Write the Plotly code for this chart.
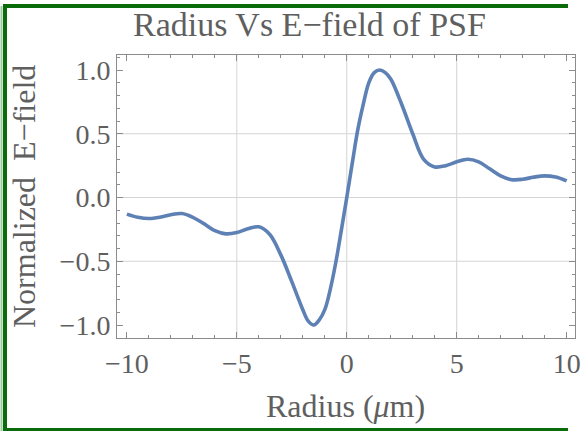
import plotly.graph_objects as go

# Data
radius = [-10.0, -9.5, -9.0, -8.5, -8.0, -7.5, -7.0, -6.5, -6.0, -5.5, -5.0, -4.5, -4.0,
          -3.5, -3.0, -2.5, -2.0, -1.75, -1.5, -1.25, -1.0, -0.75, -0.5, -0.25, 0.0,
          0.25, 0.5, 0.75, 1.0, 1.25, 1.5, 1.75, 2.0, 2.5, 3.0,
          3.5, 4.0, 4.5, 5.0, 5.5, 6.0, 6.5, 7.0, 7.5, 8.0, 8.5, 9.0, 9.5, 10.0]
efield = [-0.13, -0.155, -0.165, -0.155, -0.135, -0.126, -0.155, -0.205, -0.26, -0.285,
          -0.275, -0.245, -0.23, -0.29, -0.45, -0.66, -0.88, -0.97, -1.0, -0.96, -0.88,
          -0.72, -0.51, -0.26, 0.0,
          0.27, 0.53, 0.73, 0.90, 0.98, 1.0, 0.98, 0.93, 0.73, 0.50,
          0.30, 0.24, 0.25, 0.28, 0.30, 0.28, 0.225,
          0.17, 0.14, 0.143, 0.16, 0.17, 0.16, 0.13]

x_major = [-10, -5, 0, 5, 10]
x_labels = ["\u221210", "\u22125", "0", "5", "10"]
y_major = [-1.0, -0.5, 0.0, 0.5, 1.0]
y_labels = ["\u22121.0", "\u22120.5", "0.0", "0.5", "1.0"]
x_grid = [-5, 0, 5]
y_grid = [-0.5, 0.0, 0.5]

title_text = "Radius Vs E\u2212field of PSF"
x_title = "Radius (<i>\u03bc</i>m)"
y_title = "Normalized  E\u2212field"

W, H = 582, 431
L, R, T, B = 117, 7, 55, 93
pw, ph = W - L - R, H - T - B

def px(xp):
    return (xp - L) / pw

def py(yp):
    return (H - B - yp) / ph

FONT = "Liberation Serif"
TXT = "#5f5f5f"
FRAME = "#8c8c8c"
GREEN = "#0a6b0a"

fig = go.Figure()
fig.add_trace(go.Scatter(x=radius, y=efield, mode="lines",
                         line=dict(color="#5E81B5", width=3.6, shape="spline", smoothing=1.0),
                         hoverinfo="skip"))

shapes = []
for g in x_grid:
    shapes.append(dict(type="line", xref="x", yref="paper", x0=g, x1=g, y0=0, y1=1,
                       line=dict(color="#d4d4d4", width=1), layer="below"))
for g in y_grid:
    shapes.append(dict(type="line", xref="paper", yref="y", x0=0, x1=1, y0=g, y1=g,
                       line=dict(color="#d4d4d4", width=1), layer="below"))
# green outer border (top, left, bottom; cropped on the right)
shapes.append(dict(type="line", xref="paper", yref="paper", x0=px(3), x1=px(568),
                   y0=py(6), y1=py(6), line=dict(color=GREEN, width=4)))
shapes.append(dict(type="line", xref="paper", yref="paper", x0=px(3), x1=px(568),
                   y0=py(430), y1=py(430), line=dict(color=GREEN, width=4)))
shapes.append(dict(type="line", xref="paper", yref="paper", x0=px(5), x1=px(5),
                   y0=py(4), y1=py(432), line=dict(color=GREEN, width=4)))
# light green fringe on the left
shapes.append(dict(type="line", xref="paper", yref="paper",
                   x0=px(1.5), x1=px(1.5), y0=py(6), y1=py(431),
                   line=dict(color="#9ec89e", width=2)))

axis_common = dict(showline=True, linecolor=FRAME, linewidth=1, mirror="allticks",
                   ticks="inside", ticklen=6, tickwidth=1, tickcolor=FRAME,
                   showgrid=False, zeroline=False, automargin=False,
                   tickfont=dict(family=FONT, size=28, color=TXT))

fig.update_layout(
    template="none",
    width=W, height=H,
    margin=dict(l=L, r=R, t=T, b=B, autoexpand=False),
    paper_bgcolor="white", plot_bgcolor="white",
    showlegend=False,
    xaxis=dict(range=[-10.45, 10.38], tickmode="array", tickvals=x_major, ticktext=x_labels,
               minor=dict(dtick=1, ticks="inside", ticklen=3, tickcolor=FRAME, showgrid=False),
               **axis_common),
    yaxis=dict(range=[-1.102, 1.118], tickmode="array", tickvals=y_major, ticktext=y_labels,
               minor=dict(dtick=0.1, ticks="inside", ticklen=3, tickcolor=FRAME, showgrid=False),
               **axis_common),
    shapes=shapes,
    annotations=[
        dict(text=title_text, xref="paper", yref="paper", x=px(309), y=py(24),
             xanchor="center", yanchor="middle", showarrow=False,
             font=dict(family=FONT, size=34, color=TXT)),
        dict(text=x_title, xref="paper", yref="paper", x=px(345), y=py(406),
             xanchor="center", yanchor="middle", showarrow=False,
             font=dict(family=FONT, size=32, color=TXT)),
        dict(text=y_title, xref="paper", yref="paper", x=px(24), y=py(197),
             xanchor="center", yanchor="middle", showarrow=False, textangle=-90,
             font=dict(family=FONT, size=32, color=TXT)),
    ],
)

fig.write_html("out.html")
